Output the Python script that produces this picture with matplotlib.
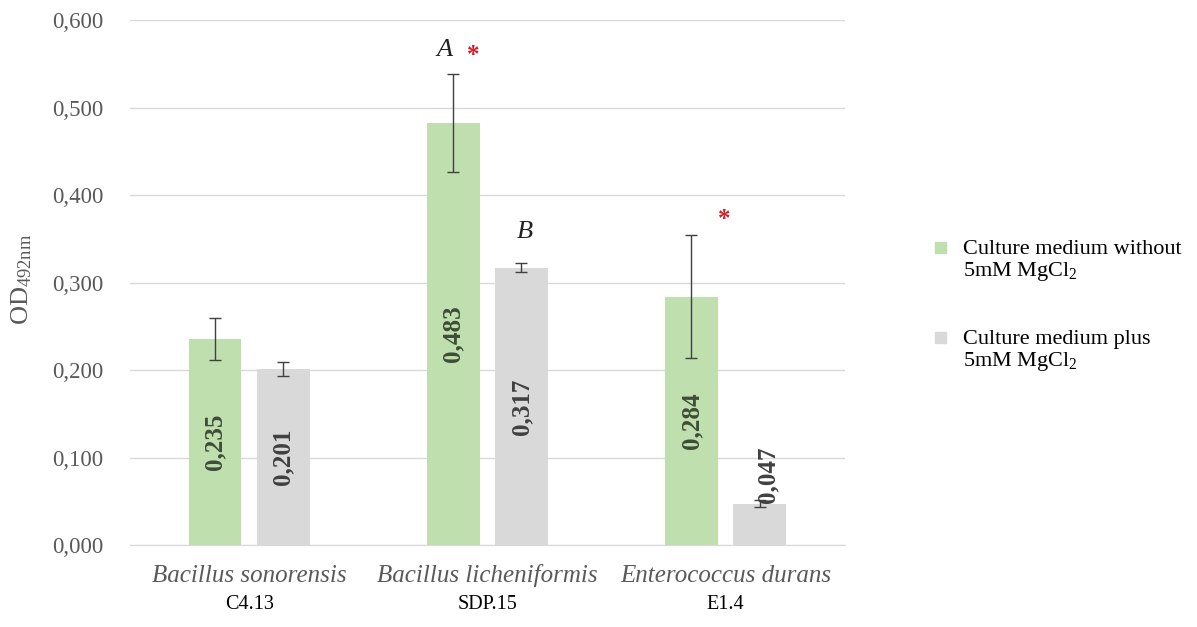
import matplotlib.pyplot as plt
from matplotlib.patches import Rectangle
import numpy as np

plt.rcParams['font.family'] = ['Liberation Serif', 'DejaVu Serif']
plt.rcParams['mathtext.fontset'] = 'custom'
plt.rcParams['mathtext.rm'] = 'Liberation Serif'
plt.rcParams['mathtext.it'] = 'Liberation Serif:italic'

species = ['Bacillus sonorensis', 'Bacillus licheniformis', 'Enterococcus durans']
strains = ['C4.13', 'SDP.15', 'E1.4']
without_mg = [0.235, 0.483, 0.284]
without_err = [0.024, 0.056, 0.070]
plus_mg = [0.201, 0.317, 0.047]
plus_err = [0.008, 0.005, 0.004]
labels = ['Culture medium without\n5mM MgCl$_2$', 'Culture medium plus\n5mM MgCl$_2$']

green = '#c0dfae'
grey = '#d9d9d9'

fig = plt.figure(figsize=(11.97, 6.27), dpi=100)
ax = fig.add_axes([0.1086, 0.1308, 0.597, 0.837])

x = np.arange(len(species))
w = 0.222
off = 0.143
ax.bar(x - off, without_mg, w, color=green, zorder=2)
ax.bar(x + off, plus_mg, w, color=grey, zorder=2)
ax.errorbar(x - off, without_mg, yerr=without_err, fmt='none', ecolor='#404040',
            elinewidth=1, capsize=4.5, capthick=1, zorder=3)
ax.errorbar(x + off, plus_mg, yerr=plus_err, fmt='none', ecolor='#404040',
            elinewidth=1, capsize=4.5, capthick=1, zorder=3)

def fmt(v):
    return f'{v:.3f}'.replace('.', ',')

# value labels, rotated, centered in bars
for xi, v in zip(x - off, without_mg):
    ax.text(xi, v / 2, fmt(v), rotation=90, ha='center', va='center',
            fontsize=18, fontweight='bold', color='#3d4d37', zorder=4)
for xi, v, e in zip(x + off, plus_mg, plus_err):
    if v < 0.1:
        # too small to fit: sits on top of the bar, beside the error bar
        ax.text(xi + 0.035, v + 0.001, fmt(v), rotation=90, ha='center', va='bottom',
                fontsize=18, fontweight='bold', color='#404040', zorder=4)
    else:
        ax.text(xi, v / 2, fmt(v), rotation=90, ha='center', va='center',
                fontsize=18, fontweight='bold', color='#404040', zorder=4)

# significance letters and asterisks
ax.text(1 - off - 0.035, 0.566, 'A', style='italic', fontsize=19, ha='center', va='center', color='#222222')
ax.text(1 - 0.06, 0.560, '*', fontsize=18, fontweight='bold', ha='center', va='center', color='#d0202a')
ax.text(1 + off + 0.015, 0.358, 'B', style='italic', fontsize=19, ha='center', va='center', color='#222222')
ax.text(2 - 0.005, 0.372, '*', fontsize=18, fontweight='bold', ha='center', va='center', color='#d0202a')

ticks = np.arange(0, 0.61, 0.1)
ax.set_xlim(-0.5, 2.5)
ax.set_ylim(0, 0.6)
ax.set_yticks(ticks)
ax.set_yticklabels([fmt(t) for t in ticks], fontsize=16.5, color='#595959')
ax.set_xticks(x)
ax.set_xticklabels([])
ax.tick_params(length=0)
ax.tick_params(axis='y', pad=19)
ax.grid(axis='y', color='#d9d9d9', linewidth=1, zorder=0)
for s in ['top', 'right', 'left']:
    ax.spines[s].set_visible(False)
ax.spines['bottom'].set_color('#d9d9d9')

trans = ax.get_xaxis_transform()
for xi, sp, st in zip(x, species, strains):
    ax.text(xi, -0.059, sp, transform=trans, ha='center', va='center', style='italic',
            fontsize=18, color='#595959')
    ax.text(xi, -0.113, st, transform=trans, ha='center', va='center', fontsize=14.5, color='black')

ax.set_ylabel(r'OD$_{\mathrm{492nm}}$', fontsize=19, color='#595959', va='center')
ax.yaxis.set_label_coords(-0.152, 0.507)

# legend: square aligned with first line of each two-line label
W, H = fig.get_size_inches() * fig.dpi
for i, (lab, col) in enumerate(zip(labels, [green, grey])):
    y1 = 254 + i * 90
    fig.patches.append(Rectangle((935 / W, 1 - (y1 - 1) / H), 11 / W, 11 / H,
                                 transform=fig.transFigure, color=col))
    for j, line in enumerate(lab.split('\n')):
        fig.text(963 / W, 1 - (y1 + j * 22) / H, line, fontsize=16, va='baseline',
                 ha='left', color='black')

fig.savefig('out.png', dpi=100)
